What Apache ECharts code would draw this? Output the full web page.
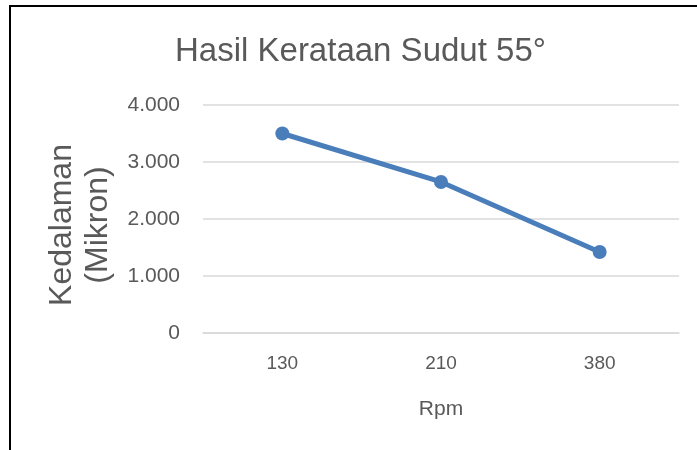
<!DOCTYPE html>
<html>
<head>
<meta charset="utf-8">
<script src="https://cdn.jsdelivr.net/npm/echarts@6/dist/echarts.min.js"></script>
<style>
  * { margin: 0; padding: 0; }
  body { background: #fff; }
  #chart { width: 697px; height: 450px; }
</style>
</head>
<body>
<div id="chart"></div>
<script>
// data
var rpm = ['130', '210', '380'];
var kedalaman = [3.5, 2.65, 1.42];
var yTicks = [0, 1, 2, 3, 4];

var chart = echarts.init(document.getElementById('chart'));
chart.setOption({
  animation: false,
  title: {
    text: 'Hasil Kerataan Sudut 55°',
    left: 170,
    top: 30,
    textStyle: {
      fontFamily: 'Liberation Sans',
      fontSize: 33,
      fontWeight: 'normal',
      color: '#595959'
    }
  },
  graphic: [
    {
      // frame round the chart
      type: 'rect',
      shape: { x: 10, y: 6, width: 720, height: 480 },
      style: { fill: 'none', stroke: '#000', lineWidth: 2 }
    }
  ],
  grid: {
    left: 203,
    right: 18,
    top: 105,
    bottom: 117
  },
  xAxis: {
    type: 'category',
    data: rpm,
    boundaryGap: true,
    name: 'Rpm',
    nameLocation: 'middle',
    nameGap: 66,
    nameTextStyle: { fontFamily: 'Liberation Sans', fontSize: 21, color: '#595959' },
    axisLine: { lineStyle: { color: '#D9D9D9', width: 1.5 } },
    axisTick: { show: false },
    axisLabel: { fontFamily: 'Liberation Sans', fontSize: 19, color: '#595959', margin: 21 }
  },
  yAxis: {
    type: 'value',
    min: yTicks[0],
    max: yTicks[yTicks.length - 1],
    interval: 1,
    name: 'Kedalaman\n(Mikron)',
    nameLocation: 'middle',
    nameGap: 87,
    nameTextStyle: {
      fontFamily: 'Liberation Sans',
      fontSize: 32,
      lineHeight: 36,
      color: '#595959',
      padding: [0, 12, 0, 0]
    },
    axisLine: { show: false },
    axisTick: { show: false },
    splitLine: { lineStyle: { color: '#D9D9D9', width: 1.5 } },
    axisLabel: {
      fontFamily: 'Liberation Sans',
      fontSize: 21,
      color: '#595959',
      margin: 23,
      formatter: function (v) { return v === 0 ? '0' : v.toFixed(3); }
    }
  },
  series: [
    {
      type: 'line',
      data: kedalaman,
      symbol: 'circle',
      symbolSize: 14,
      lineStyle: { color: '#4A7EBB', width: 5 },
      itemStyle: { color: '#4A7EBB' }
    }
  ]
});
</script>
</body>
</html>
